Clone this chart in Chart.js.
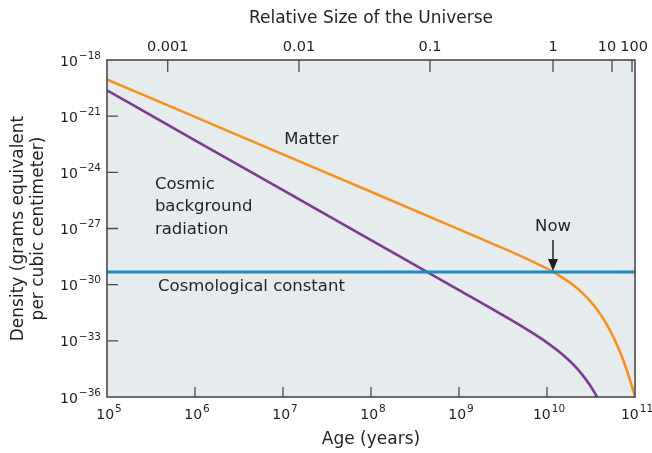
<!DOCTYPE html>
<html><head><meta charset="utf-8">
<script src="https://cdn.jsdelivr.net/npm/chart.js@4/dist/chart.umd.min.js"></script>
<style>html,body{margin:0;padding:0;background:#fff}#wrap{width:652px;height:453px;position:relative}</style>
</head><body><div id="wrap"><canvas id="c"></canvas></div>
<script>
// ---- data ----
const ageTicks = [1e5, 1e6, 1e7, 1e8, 1e9, 1e10, 1e11];
const ageTickExponents = ['5', '6', '7', '8', '9', '10', '11'];
const densityTicks = [1e-36, 1e-33, 1e-30, 1e-27, 1e-24, 1e-21, 1e-18];
const densityTickExponents = ['−36', '−33', '−30', '−27', '−24', '−21', '−18'];
const sizeTickAges = [4.9e5, 1.52e7, 4.68e8, 1.17e10, 5.48e10, 9.25e10];
const sizeTickLabels = ['0.001', '0.01', '0.1', '1', '10', '100'];

const matterAges = [1e5, 1e6, 1e7, 1e8, 1e9, 3e9, 6e9, 1e10, 1.17e10, 1.5e10, 2e10, 2.5e10, 3e10, 4e10, 5e10, 6e10, 7e10, 8e10, 9e10, 1e11];
const matterDensity = [9.12e-20, 9.12e-22, 9.12e-24, 9.12e-26, 9.0e-28, 9.84e-29, 2.30e-29, 7.13e-30, 4.79e-30, 2.39e-30, 9.25e-31, 3.78e-31, 1.58e-31, 2.84e-32, 5.13e-33, 9.29e-34, 1.68e-34, 3.04e-35, 5.50e-36, 1e-36];

const radiationAges = [1e5, 1e6, 1e7, 1e8, 1e9, 3e9, 6e9, 1e10, 1.5e10, 2e10, 2.5e10, 3e10, 3.5e10, 3.7e10];
const radiationDensity = [2.40e-20, 5.16e-23, 1.11e-25, 2.39e-28, 5.13e-31, 2.67e-32, 3.85e-33, 8.07e-34, 1.88e-34, 5.31e-35, 1.61e-35, 5.05e-36, 1.60e-36, 1e-36];

const lambdaAges = [1e5, 1e11];
const lambdaDensity = [4.8e-30, 4.8e-30];

const nowAge = 1.17e10;

// ---- styles ----
const FONT = "'DejaVu Sans', sans-serif";
const TEXT = '#231f20';
const topLabelNudge = [0, 0, 0, 0, -5, 2];
const pts = (xs, ys) => xs.map((x, i) => ({x, y: ys[i]}));

const labels = [
  {text: 'Matter', x: 2.1e7, y: 5.4e-23, align: 'center'},
  {text: 'Cosmic', x: 3.5e5, y: 2.1e-25, align: 'left'},
  {text: 'background', x: 3.5e5, y: 1.4e-26, align: 'left'},
  {text: 'radiation', x: 3.5e5, y: 8.3e-28, align: 'left'},
  {text: 'Cosmological constant', x: 3.8e5, y: 7.4e-31, align: 'left'},
  {text: 'Now', x: nowAge, y: 1.2e-27, align: 'center'}
];

function drawPow(ctx, exp, x, y, align) {
  ctx.font = '14px ' + FONT;
  const wb = ctx.measureText('10').width;
  ctx.font = '10.5px ' + FONT;
  const we = ctx.measureText(exp).width;
  const total = wb + 1 + we;
  const start = align === 'right' ? x - total : x - total / 2;
  ctx.textAlign = 'left';
  ctx.textBaseline = 'middle';
  ctx.font = '14px ' + FONT;
  ctx.fillText('10', start, y);
  ctx.font = '10.5px ' + FONT;
  ctx.fillText(exp, start + wb + 1, y - 6);
}

const decor = {
  id: 'decor',
  beforeDatasetsDraw(chart) {
    const {ctx, chartArea: a} = chart;
    ctx.save();
    ctx.fillStyle = '#e6ebee';
    ctx.fillRect(a.left, a.top, a.right - a.left, a.bottom - a.top);
    ctx.restore();
  },
  afterDatasetsDraw(chart) {
    const {ctx, chartArea: a, scales} = chart;
    ctx.save();
    ctx.strokeStyle = '#4a4a4a';
    ctx.lineWidth = 1.6;
    ctx.strokeRect(a.left, a.top, a.right - a.left, a.bottom - a.top);
    ctx.lineWidth = 1.3;
    ctx.beginPath();
    scales.x.ticks.forEach(t => {
      const px = scales.x.getPixelForValue(t.value);
      if (px > a.left + 2 && px < a.right - 2) { ctx.moveTo(px, a.bottom); ctx.lineTo(px, a.bottom - 10); }
    });
    scales.x2.ticks.forEach(t => {
      const px = scales.x2.getPixelForValue(t.value);
      ctx.moveTo(px, a.top); ctx.lineTo(px, a.top + 12);
    });
    scales.y.ticks.forEach(t => {
      const py = scales.y.getPixelForValue(t.value);
      if (py > a.top + 2 && py < a.bottom - 2) { ctx.moveTo(a.left, py); ctx.lineTo(a.left + 11, py); }
    });
    ctx.stroke();

    ctx.fillStyle = TEXT;
    // tick labels
    ageTicks.forEach((v, i) => drawPow(ctx, ageTickExponents[i], scales.x.getPixelForValue(v) + 2, a.bottom + 18, 'center'));
    densityTicks.forEach((v, i) => drawPow(ctx, densityTickExponents[i], a.left - 6, scales.y.getPixelForValue(v) + 2, 'right'));
    ctx.font = '14.5px ' + FONT;
    ctx.textAlign = 'center';
    ctx.textBaseline = 'middle';
    sizeTickAges.forEach((v, i) => ctx.fillText(sizeTickLabels[i], scales.x2.getPixelForValue(v) + topLabelNudge[i], a.top - 13));

    // annotation labels
    ctx.font = '16.5px ' + FONT;
    labels.forEach(l => {
      ctx.textAlign = l.align;
      ctx.fillText(l.text, scales.x.getPixelForValue(l.x), scales.y.getPixelForValue(l.y));
    });
    // Now arrow
    const ax = scales.x.getPixelForValue(nowAge);
    const y0 = scales.y.getPixelForValue(1.2e-27) + 13;
    const y1 = scales.y.getPixelForValue(lambdaDensity[0]) - 1;
    ctx.strokeStyle = TEXT;
    ctx.lineWidth = 1.5;
    ctx.beginPath(); ctx.moveTo(ax, y0); ctx.lineTo(ax, y1 - 8); ctx.stroke();
    ctx.beginPath(); ctx.moveTo(ax - 5, y1 - 12); ctx.lineTo(ax + 5, y1 - 12); ctx.lineTo(ax, y1); ctx.closePath(); ctx.fill();
    ctx.restore();
  }
};

new Chart(document.getElementById('c'), {
  type: 'line',
  data: {
    datasets: [
      {label: 'Cosmological constant', data: pts(lambdaAges, lambdaDensity), borderColor: '#1a8cc0', borderWidth: 3, pointRadius: 0},
      {label: 'Cosmic background radiation', data: pts(radiationAges, radiationDensity), borderColor: '#7b3b8e', borderWidth: 2.6, pointRadius: 0, cubicInterpolationMode: 'monotone'},
      {label: 'Matter', data: pts(matterAges, matterDensity), borderColor: '#f7901e', borderWidth: 2.6, pointRadius: 0, cubicInterpolationMode: 'monotone'}
    ]
  },
  options: {
    responsive: true,
    maintainAspectRatio: false,
    animation: false,
    layout: {padding: {left: 0, right: 17, top: 0, bottom: 0}},
    plugins: {legend: {display: false}, tooltip: {enabled: false}},
    scales: {
      x: {
        type: 'logarithmic', position: 'bottom', min: 1e5, max: 1e11,
        afterBuildTicks: s => { s.ticks = ageTicks.map(v => ({value: v})); },
        afterFit: s => { s.height = 56; },
        grid: {display: false, drawTicks: false}, border: {display: false},
        ticks: {display: false},
        title: {display: true, text: 'Age (years)', font: {family: FONT, size: 17}, color: TEXT, padding: {top: 0, bottom: 3}}
      },
      x2: {
        type: 'logarithmic', position: 'top', min: 1e5, max: 1e11,
        afterBuildTicks: s => { s.ticks = sizeTickAges.map(v => ({value: v})); },
        afterFit: s => { s.height = 60; },
        grid: {display: false, drawTicks: false}, border: {display: false},
        ticks: {display: false},
        title: {display: true, text: 'Relative Size of the Universe', font: {family: FONT, size: 17}, color: TEXT, padding: {top: 8, bottom: 0}}
      },
      y: {
        type: 'logarithmic', position: 'left', min: 1e-36, max: 1e-18,
        afterBuildTicks: s => { s.ticks = densityTicks.map(v => ({value: v})); },
        afterFit: s => { s.width = 107; },
        grid: {display: false, drawTicks: false}, border: {display: false},
        ticks: {display: false},
        title: {display: true, text: ['Density (grams equivalent', 'per cubic centimeter)'], font: {family: FONT, size: 17}, color: TEXT, padding: {top: 8, bottom: 0}}
      }
    }
  },
  plugins: [decor]
});
</script></body></html>
